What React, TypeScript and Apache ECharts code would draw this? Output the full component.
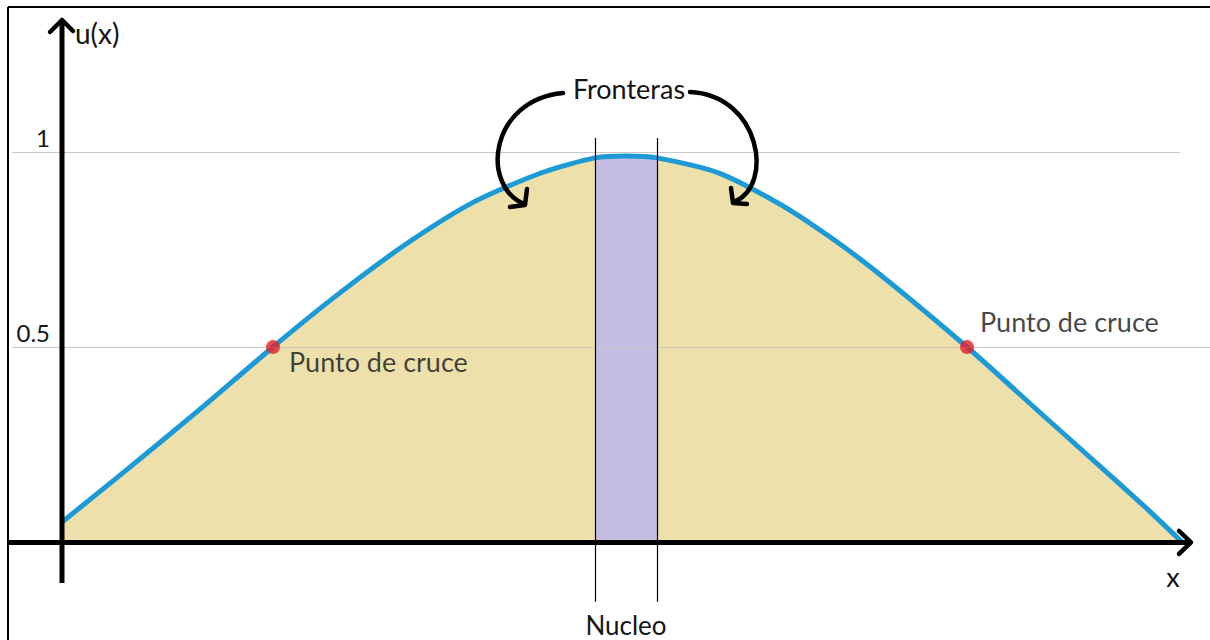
import React, { useEffect, useRef } from "react";
import * as echarts from "echarts";

// ---- data ----
const curveX = [0, 6.7, 13.6, 21.1, 27.4, 34.3, 41.2, 48.1, 53.3, 56.4, 59.5, 65.9, 73.1, 80.2, 90.5, 98.1, 105.2, 108.8, 112];
const curveY = [0.051, 0.19, 0.336, 0.5, 0.631, 0.762, 0.872, 0.948, 0.985, 0.99, 0.985, 0.944, 0.846, 0.718, 0.5, 0.325, 0.162, 0.078, 0];
const coreStart = 53.3;
const coreEnd = 59.5;
const crossX = [21.1, 90.5];
const crossY = [0.5, 0.5];
const crossLabels = ["Punto de cruce", "Punto de cruce"];
const yTicks = [0.5, 1];
const yTickLabels = ["0.5", "1"];
const yAxisName = "u(x)";
const xAxisName = "x";
const coreLabel = "Nucleo";
const boundaryLabel = "Fronteras";

const FONT = "Lato, 'Open Sans', sans-serif";
const TXT = "#141414";

export default function App() {
  const ref = useRef<HTMLDivElement>(null);
  useEffect(() => {
    if (!ref.current) return;
    const chart = echarts.init(ref.current, null, { renderer: "svg" });
    const curve = curveX.map((x, i) => [x, curveY[i]]);
    const core = curve.filter((p) => p[0] >= coreStart && p[0] <= coreEnd);
    const base: any = {
      animation: false,
      backgroundColor: "#ffffff",
      grid: { left: 0, right: 0, top: 0, bottom: 0, containLabel: false },
      xAxis: { type: "value", min: -6.2, max: 114.8, show: false },
      yAxis: { type: "value", min: -0.2513, max: 1.3897, show: false },
      series: [
        {
          type: "line",
          name: "area",
          data: curve,
          smooth: 0.25,
          symbol: "none",
          lineStyle: { width: 0, opacity: 0 },
          areaStyle: { color: "#ede0ab", opacity: 1 },
          markLine: {
            silent: true,
            symbol: "none",
            label: { show: false },
            lineStyle: { color: "#c8c8c8", width: 1, type: "solid" },
            data: yTicks.map((t, i) => [
              { coord: [-5.0, t] },
              { coord: [i === 0 ? 114.8 : 111.8, t] },
            ]),
          },
          z: 1,
        },
        {
          type: "line",
          name: "core",
          data: core,
          smooth: 0.25,
          symbol: "none",
          lineStyle: { width: 0, opacity: 0 },
          areaStyle: { color: "#c5bce4", opacity: 1 },
          z: 2,
        },
        {
          type: "line",
          name: "u(x)",
          data: curve,
          smooth: 0.25,
          symbol: "none",
          lineStyle: { color: "#1c9ad6", width: 5 },
          markLine: {
            silent: true,
            symbol: "none",
            label: { show: false },
            lineStyle: { color: "#000", width: 1.2, type: "solid" },
            data: [coreStart, coreEnd].map((c) => [
              { coord: [c, 1.036] },
              { coord: [c, -0.153] },
            ]),
          },
          z: 3,
        },
        {
          type: "scatter",
          data: crossX.map((x, i) => ({
            value: [x, crossY[i]],
            label: {
              show: true,
              formatter: crossLabels[i],
              position: "right",
              distance: i === 0 ? 9 : 6,
              offset: i === 0 ? [0, 15] : [0, -25],
              fontFamily: FONT,
              fontSize: 27,
              color: TXT,
            },
          })),
          symbol: "circle",
          symbolSize: 14,
          itemStyle: { color: "#e2202b" },
          z: 5,
        },
      ],
    };
    chart.setOption(base);

    const px = (x: number, y: number) => chart.convertToPixel({ gridIndex: 0 }, [x, y]) as number[];
    const o = px(0, 0);
    const coreMid = px((coreStart + coreEnd) / 2, 0);
    const stroke = { stroke: "#000", lineWidth: 5, fill: null as any };
    const head = { stroke: "#000", lineWidth: 4.5, fill: null as any, lineCap: "round", lineJoin: "round" };

    const graphic: any[] = [
      // frame
      { type: "line", z: 100, shape: { x1: 8, y1: 7, x2: 1210, y2: 7 }, style: { stroke: "#000", lineWidth: 2 } },
      { type: "line", z: 100, shape: { x1: 8, y1: 7, x2: 8, y2: 640 }, style: { stroke: "#000", lineWidth: 2 } },
      // axes
      { type: "line", z: 100, shape: { x1: o[0], y1: 583, x2: o[0], y2: 22 }, style: stroke },
      { type: "polyline", z: 100, shape: { points: [[o[0] - 12, 32], [o[0], 20], [o[0] + 11, 31]] }, style: head },
      { type: "line", z: 100, shape: { x1: 8, y1: o[1] + 0.5, x2: 1189, y2: o[1] + 0.5 }, style: stroke },
      { type: "polyline", z: 100, shape: { points: [[1179, o[1] - 11], [1191, o[1] + 0.5], [1179, o[1] + 12]] }, style: head },
      // axis names
      { type: "text", z: 100, x: 75, y: 33, style: { text: yAxisName, font: `28px ${FONT}`, fill: TXT, textVerticalAlign: "middle" } },
      { type: "text", z: 100, x: 1173, y: 576, style: { text: xAxisName, font: `27px ${FONT}`, fill: TXT, textAlign: "center", textVerticalAlign: "middle" } },
      // core label
      { type: "text", z: 100, x: coreMid[0], y: 625, style: { text: coreLabel, font: `26px ${FONT}`, fill: TXT, textAlign: "center", textVerticalAlign: "middle" } },
      // Fronteras label
      { type: "text", z: 100, x: 629, y: 88, style: { text: boundaryLabel, font: `27px ${FONT}`, fill: TXT, textAlign: "center", textVerticalAlign: "middle" } },
      // curved arrows
      { type: "bezierCurve", z: 100, shape: { x1: 563, y1: 93, cpx1: 490, cpy1: 100, cpx2: 480, cpy2: 185, x2: 524, y2: 204 }, style: { stroke: "#000", lineWidth: 4.5, fill: null, lineCap: "round" } },
      { type: "polyline", z: 100, shape: { points: [[527, 189], [525, 205], [510, 207]] }, style: head },
      { type: "bezierCurve", z: 100, shape: { x1: 690, y1: 92, cpx1: 760, cpy1: 95, cpx2: 775, cpy2: 185, x2: 734, y2: 202 }, style: { stroke: "#000", lineWidth: 4.5, fill: null, lineCap: "round" } },
      { type: "polyline", z: 100, shape: { points: [[731, 188], [733, 203], [747, 204]] }, style: head },
    ];
    yTicks.forEach((t, i) => {
      const p = px(0, t);
      graphic.push({
        type: "text",
        z: 100,
        x: 50,
        y: p[1] - 14,
        style: { text: yTickLabels[i], font: `24px ${FONT}`, fill: TXT, textAlign: "right", textVerticalAlign: "middle" },
      });
    });
    chart.setOption({ graphic });

    return () => chart.dispose();
  }, []);
  return <div ref={ref} style={{ position: "fixed", left: 0, top: 0, width: 1210, height: 640 }} />;
}
